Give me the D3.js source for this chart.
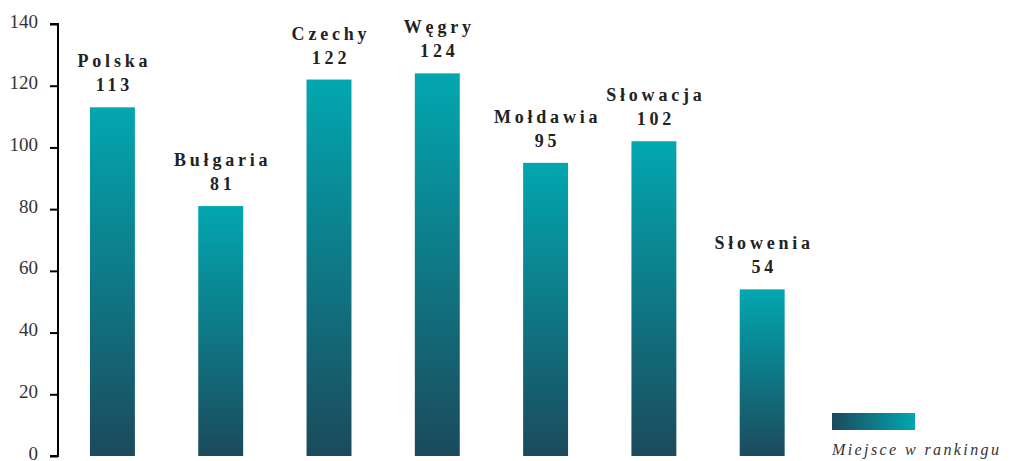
<!DOCTYPE html>
<html>
<head>
<meta charset="utf-8">
<script src="https://cdn.jsdelivr.net/npm/d3@7"></script>
<style>
  body { margin: 0; background: #fff; }
  svg text { font-family: "Liberation Serif", "DejaVu Serif", serif; }
</style>
</head>
<body>
<svg id="chart" width="1014" height="461"></svg>
<script>
const countries = ["Polska", "Bułgaria", "Czechy", "Węgry", "Mołdawia", "Słowacja", "Słowenia"];
const ranks = [113, 81, 122, 124, 95, 102, 54];
const yTicks = [0, 20, 40, 60, 80, 100, 120, 140];
const legendLabel = "Miejsce w rankingu";

const svg = d3.select("#chart");

const defs = svg.append("defs");
const barGrad = defs.append("linearGradient").attr("id", "barGrad")
  .attr("x1", 0).attr("y1", 0).attr("x2", 0).attr("y2", 1);
barGrad.append("stop").attr("offset", "0%").attr("stop-color", "#02a7b0");
barGrad.append("stop").attr("offset", "100%").attr("stop-color", "#1b4a5c");
const legGrad = defs.append("linearGradient").attr("id", "legGrad")
  .attr("x1", 0).attr("y1", 0).attr("x2", 1).attr("y2", 0);
legGrad.append("stop").attr("offset", "0%").attr("stop-color", "#1b4a5c");
legGrad.append("stop").attr("offset", "100%").attr("stop-color", "#02a7b0");

const x = d3.scaleBand().domain(countries).range([58, 816.6])
  .paddingInner(0.585).paddingOuter(0.295);
const y = d3.scaleLinear().domain([0, 140]).range([456, 24]);

// axis
const axis = svg.append("g").attr("transform", "translate(58,0)")
  .call(d3.axisLeft(y).tickValues(yTicks).tickSize(8).tickPadding(12));
axis.select(".domain").attr("stroke", "#000").attr("stroke-width", 2)
  .attr("d", "M-8," + y(140) + "H0V" + y(0) + "H-8");
axis.selectAll(".tick line").attr("stroke", "#000").attr("stroke-width", 2);
axis.selectAll(".tick text").style("font-size", "19px").style("font-family", "'Liberation Serif', serif")
  .attr("fill", "#333").attr("dy", "0.16em");

// bars
svg.selectAll("rect.bar").data(ranks).enter().append("rect").attr("class", "bar")
  .attr("x", (d, i) => x(countries[i])).attr("width", x.bandwidth())
  .attr("y", d => y(d)).attr("height", d => y(0) - y(d))
  .attr("fill", "url(#barGrad)");

// labels
const lab = svg.selectAll("g.lab").data(ranks).enter().append("g").attr("class", "lab");
lab.append("text")
  .attr("x", (d, i) => x(countries[i]) + x.bandwidth() / 2 + 2)
  .attr("y", d => y(d) - 40)
  .attr("text-anchor", "middle").attr("font-size", "18px").attr("font-weight", "bold")
  .attr("letter-spacing", "3.8px").attr("fill", "#222")
  .text((d, i) => countries[i]);
lab.append("text")
  .attr("x", (d, i) => x(countries[i]) + x.bandwidth() / 2 + 2)
  .attr("y", d => y(d) - 16)
  .attr("text-anchor", "middle").attr("font-size", "18px").attr("font-weight", "bold")
  .attr("letter-spacing", "3.8px").attr("fill", "#222")
  .text(d => d);

// legend
svg.append("rect").attr("x", 832).attr("y", 413).attr("width", 83).attr("height", 17)
  .attr("fill", "url(#legGrad)");
svg.append("text").attr("x", 832).attr("y", 455)
  .attr("font-size", "16px").attr("font-style", "italic").attr("letter-spacing", "2.4px")
  .attr("fill", "#333").text(legendLabel);
</script>
</body>
</html>
